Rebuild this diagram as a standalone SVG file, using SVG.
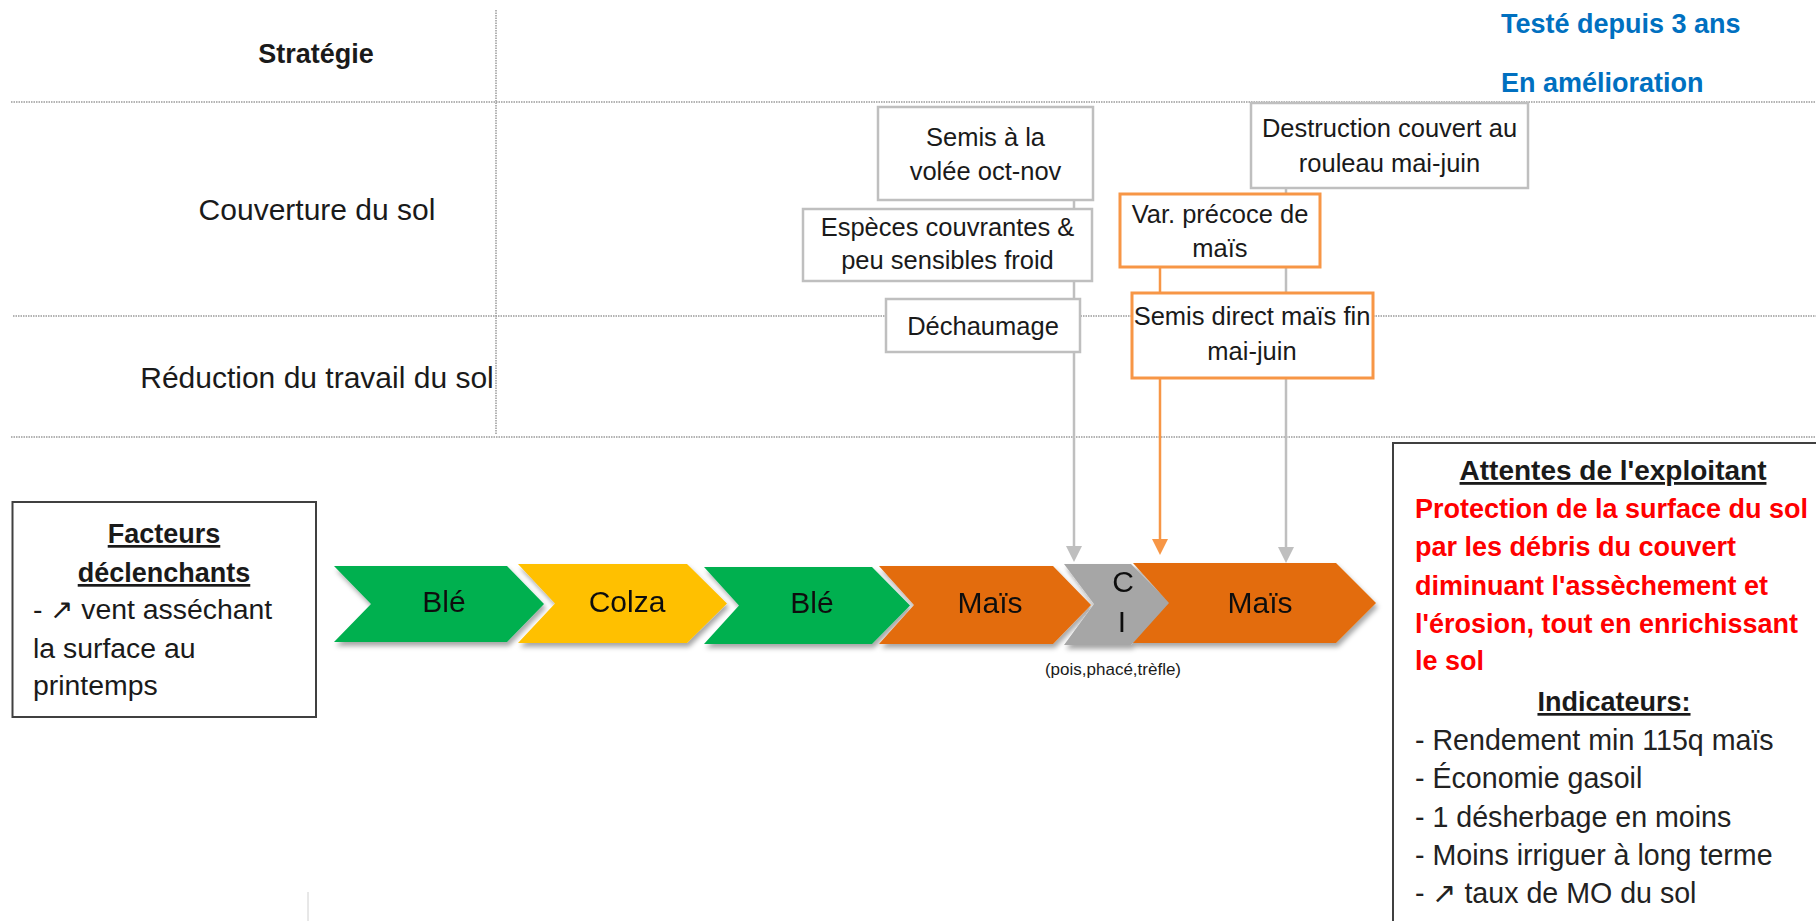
<svg xmlns="http://www.w3.org/2000/svg" width="1816" height="921" viewBox="0 0 1816 921">
<style>
text{font-family:"Liberation Sans",Arial,sans-serif;fill:#1a1a1a}
.hdr{font-size:30px}
.b{font-weight:bold}
.box{fill:#fff;stroke:#BFBFBF;stroke-width:2.5}
.obox{fill:#fff;stroke:#F79646;stroke-width:3}
.bt{font-size:25.5px;text-anchor:middle}
.grid{stroke:#9a9a9a;stroke-width:1.5;stroke-dasharray:1.5 1}
.ct{font-size:30px;text-anchor:middle;fill:#111}
.pan{fill:#fff;stroke:#404040;stroke-width:2}
.red{fill:#FF0000;font-weight:bold;font-size:27px}
.ind{font-size:28.6px;fill:#222}
.fac{font-size:28.4px}
</style>
<defs>
<filter id="sh" x="-10%" y="-10%" width="130%" height="140%">
<feDropShadow dx="2" dy="4" stdDeviation="2.5" flood-color="#000" flood-opacity="0.35"/>
</filter>
</defs>

<g id="grid">
<line class="grid" x1="11" y1="102" x2="1816" y2="102"/>
<line class="grid" x1="13" y1="316" x2="1816" y2="316"/>
<line class="grid" x1="11" y1="437" x2="1816" y2="437"/>
<line class="grid" x1="496" y1="10" x2="496" y2="435"/>
<line x1="308" y1="892" x2="308" y2="921" stroke="#d0d0d0" stroke-width="1"/>
</g>

<g id="row-labels">
<text class="b" x="316" y="63" font-size="27" text-anchor="middle">Stratégie</text>
<text class="hdr" x="317" y="220" text-anchor="middle">Couverture du sol</text>
<text class="hdr" x="317" y="388" text-anchor="middle">Réduction du travail du sol</text>
</g>

<g id="legend">
<text class="b" x="1501" y="33" font-size="27" style="fill:#0070C0">Testé depuis 3 ans</text>
<text class="b" x="1501" y="92" font-size="27" style="fill:#0070C0">En amélioration</text>
</g>

<g id="connectors">
<line x1="1074" y1="200" x2="1074" y2="548" stroke="#BFBFBF" stroke-width="2.5"/>
<path d="M1066,546 L1082,546 L1074,562 Z" fill="#BFBFBF"/>
<line x1="1286" y1="188" x2="1286" y2="549" stroke="#BFBFBF" stroke-width="2.5"/>
<path d="M1278,547 L1294,547 L1286,563 Z" fill="#BFBFBF"/>
<line x1="1160" y1="267" x2="1160" y2="541" stroke="#F79646" stroke-width="2.5"/>
<path d="M1152,539 L1168,539 L1160,555 Z" fill="#F79646"/>
</g>

<g id="semis-volee">
<rect class="box" x="878" y="107" width="215" height="93"/>
<text class="bt" x="985.5" y="146">Semis à la</text>
<text class="bt" x="985.5" y="180">volée oct-nov</text>
</g>
<g id="especes">
<rect class="box" x="803" y="209" width="289" height="72"/>
<text class="bt" x="947.5" y="236">Espèces couvrantes &amp;</text>
<text class="bt" x="947.5" y="269">peu sensibles froid</text>
</g>
<g id="dechaumage">
<rect class="box" x="886" y="299" width="194" height="53"/>
<text class="bt" x="983" y="335">Déchaumage</text>
</g>
<g id="destruction">
<rect class="box" x="1251" y="103" width="277" height="85"/>
<text class="bt" x="1389.5" y="137">Destruction couvert au</text>
<text class="bt" x="1389.5" y="172">rouleau mai-juin</text>
</g>
<g id="var-precoce">
<rect class="obox" x="1120" y="194" width="200" height="73"/>
<text class="bt" x="1220" y="223">Var. précoce de</text>
<text class="bt" x="1220" y="257">maïs</text>
</g>
<g id="semis-direct">
<rect class="obox" x="1132" y="293" width="241" height="85"/>
<text class="bt" x="1252" y="325">Semis direct maïs fin</text>
<text class="bt" x="1252" y="360">mai-juin</text>
</g>

<g id="facteurs">
<rect class="pan" x="12.5" y="502" width="303.5" height="215"/>
<text class="b" x="164" y="543" font-size="27" text-anchor="middle" text-decoration="underline">Facteurs</text>
<text class="b" x="164" y="582" font-size="27" text-anchor="middle" text-decoration="underline">déclenchants</text>
<text class="fac" x="33" y="619">- ↗ vent asséchant</text>
<text class="fac" x="33" y="658">la surface au</text>
<text class="fac" x="33" y="695">printemps</text>
</g>

<g id="rotation" filter="url(#sh)">
<g id="ble1">
<path d="M334,566 L507,566 L544,604 L507,642 L334,642 L371,604 Z" fill="#00B050"/>
<text class="ct" x="444" y="612">Blé</text>
</g>
<g id="colza">
<path d="M518,564 L687,564 L727,603.5 L687,643 L518,643 L555,603.5 Z" fill="#FFC000"/>
<text class="ct" x="627" y="612">Colza</text>
</g>
<g id="ble2">
<path d="M704,567 L872,567 L910,605.5 L872,644 L704,644 L739,605.5 Z" fill="#00B050"/>
<text class="ct" x="812" y="613">Blé</text>
</g>
<g id="mais1">
<path d="M879,566 L1053,566 L1091,605 L1053,644 L879,644 L914,605 Z" fill="#E36C0A"/>
<text class="ct" x="990" y="613">Maïs</text>
</g>
<g id="ci">
<path d="M1064,564 L1131,564 L1171,604 L1131,645 L1064,645 L1094,604 Z" fill="#A6A6A6"/>
<text class="ct" x="1123" y="592">C</text>
<text class="ct" x="1122" y="632">I</text>
</g>
<g id="mais2">
<path d="M1133,563 L1336,563 L1376,603 L1336,643 L1133,643 L1169,603 Z" fill="#E36C0A"/>
<text class="ct" x="1260" y="613">Maïs</text>
</g>
</g>
<text x="1113" y="675" font-size="17" text-anchor="middle" fill="#333">(pois,phacé,trèfle)</text>

<g id="attentes">
<rect class="pan" x="1393" y="443" width="440" height="500"/>
<text class="b" x="1613" y="480" font-size="28" text-anchor="middle" text-decoration="underline">Attentes de l'exploitant</text>
<text class="red" x="1415" y="518">Protection de la surface du sol</text>
<text class="red" x="1415" y="556">par les débris du couvert</text>
<text class="red" x="1415" y="595">diminuant l'assèchement et</text>
<text class="red" x="1415" y="633">l'érosion, tout en enrichissant</text>
<text class="red" x="1415" y="670">le sol</text>
<text class="b" x="1614" y="711" font-size="27" text-anchor="middle" text-decoration="underline">Indicateurs:</text>
<text class="ind" x="1415" y="750">- Rendement min 115q maïs</text>
<text class="ind" x="1415" y="788">- Économie gasoil</text>
<text class="ind" x="1415" y="827">- 1 désherbage en moins</text>
<text class="ind" x="1415" y="865">- Moins irriguer à long terme</text>
<text class="ind" x="1415" y="903">- ↗ taux de MO du sol</text>
</g>
</svg>
